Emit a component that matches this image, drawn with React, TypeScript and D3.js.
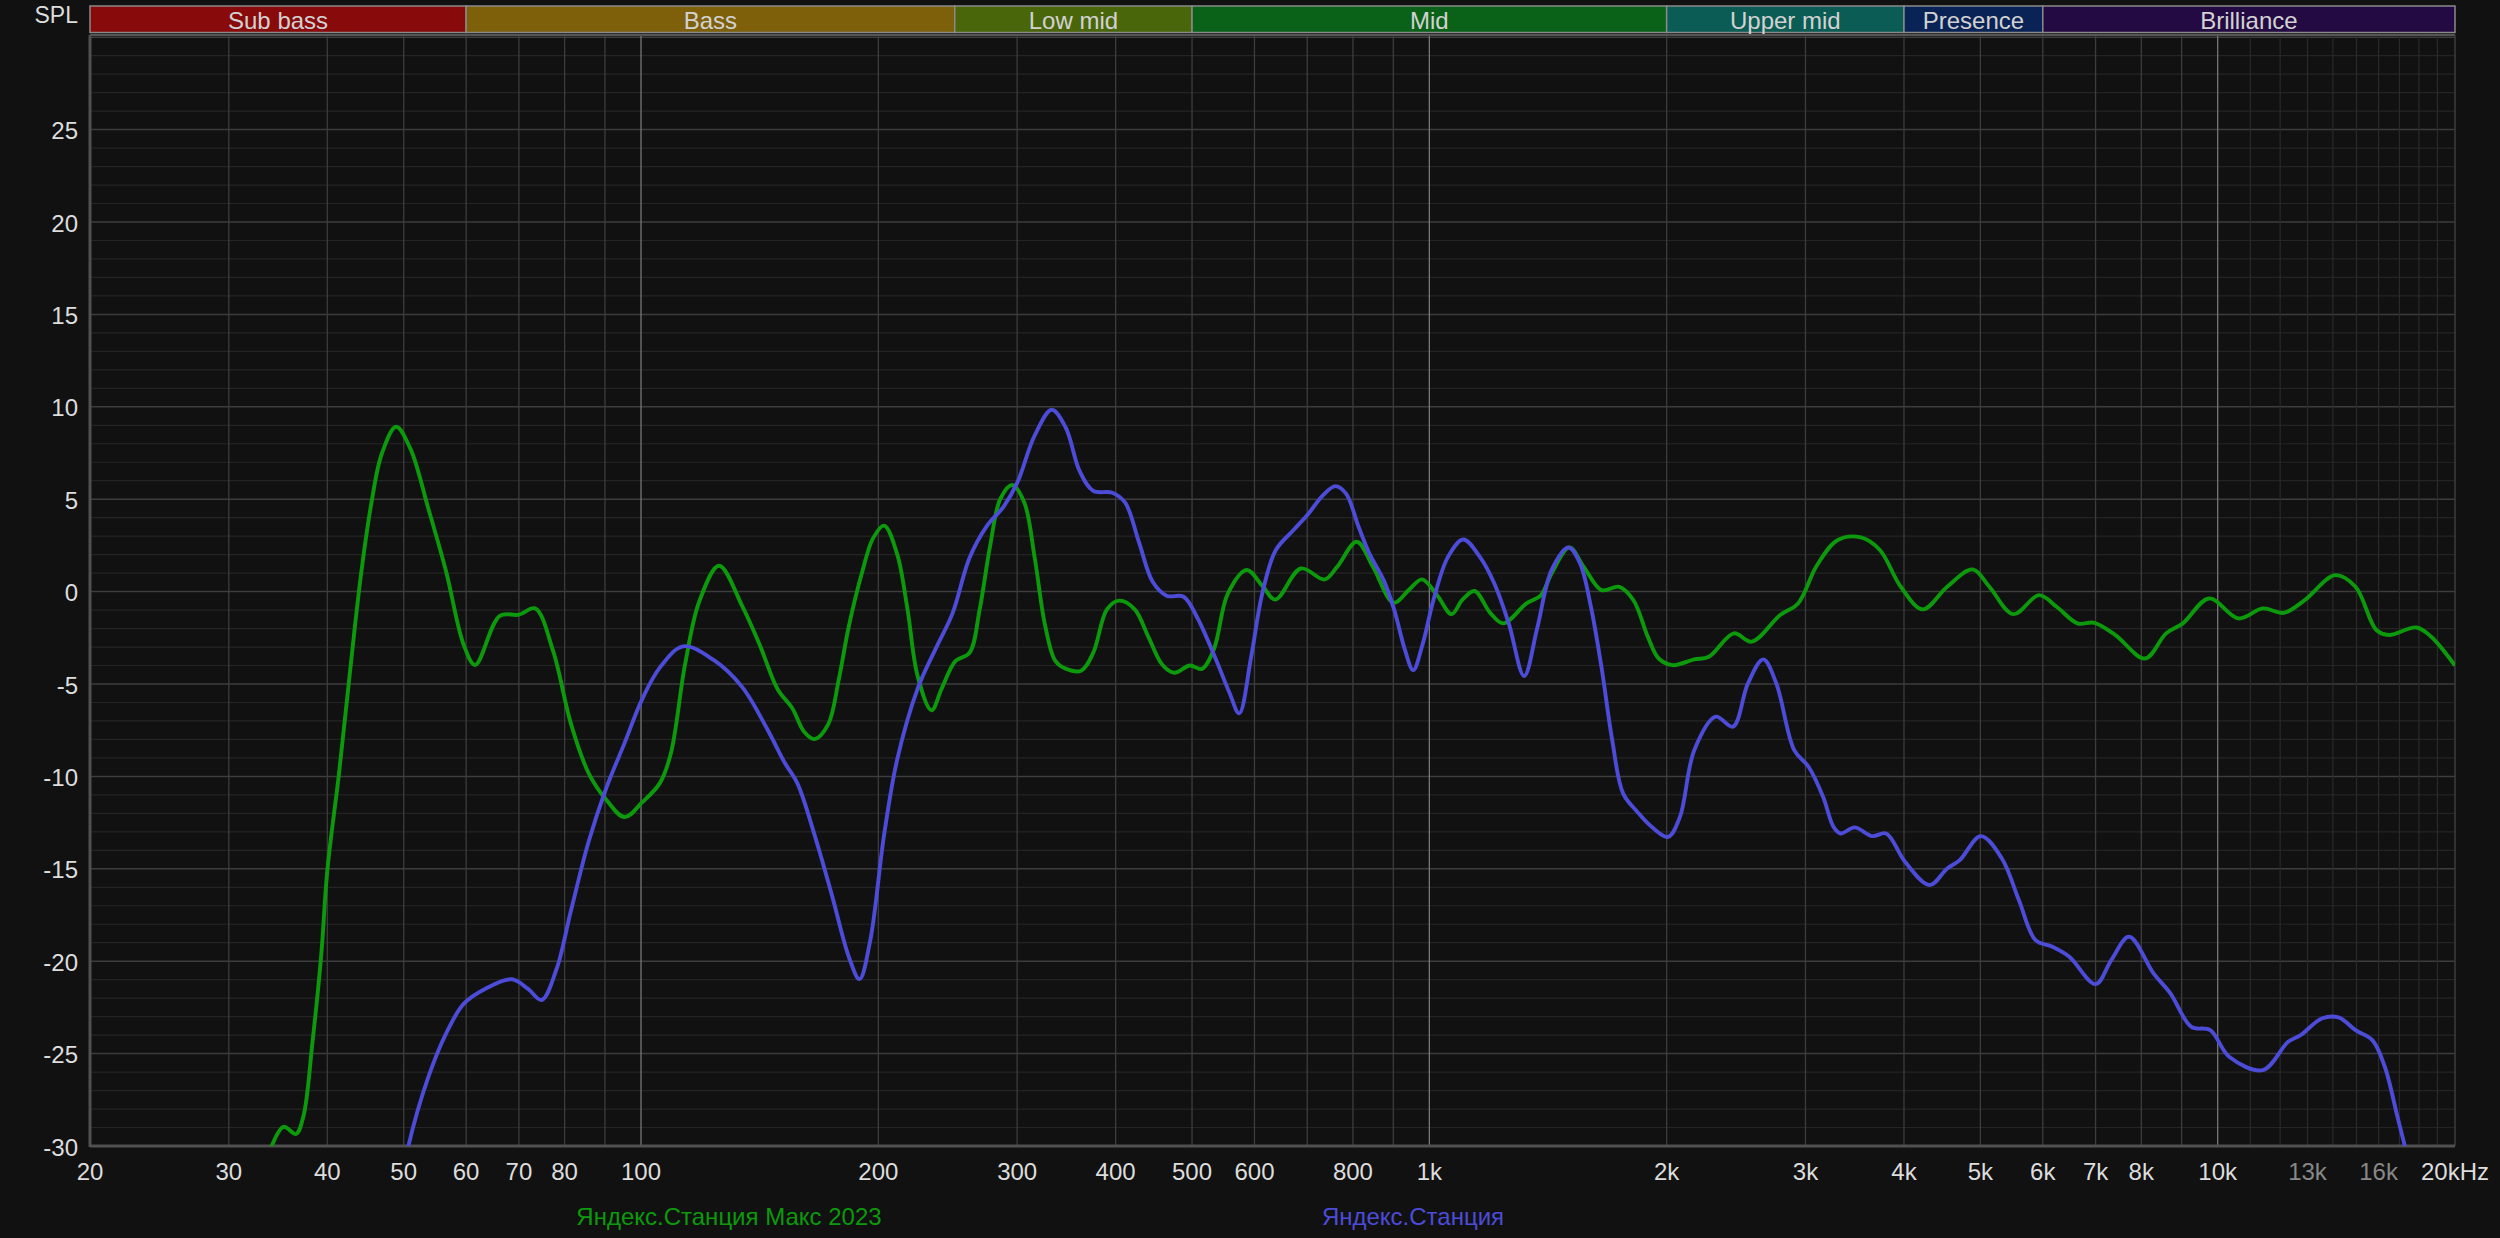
import React from "react";
import * as d3 from "d3";

const W = 2500;
const H = 1238;

// ---- data ----
const greenFreq = [33.5, 34.0, 35.2, 36.5, 37.3, 38.3, 39.3, 40.0, 41.4, 42.7, 44.1, 45.5, 46.9, 48.9, 51.0, 53.7, 56.6, 59.6, 61.6, 66.2, 70.0, 73.4, 77.3, 81.5, 85.8, 90.4, 95.3, 100.3, 105.7, 109.1, 113.7, 118.6, 125.6, 134.4, 141.5, 149.1, 155.5, 161.1, 166.0, 172.8, 178.1, 183.6, 191.1, 196.9, 203.4, 211.3, 217.8, 224.4, 233.6, 240.7, 250.6, 261.0, 268.9, 277.2, 285.7, 295.8, 306.4, 315.8, 325.5, 335.4, 345.7, 361.6, 374.6, 390, 404.2, 422.9, 440.3, 458.4, 474.9, 496.8, 514.5, 533.1, 555.1, 586.6, 613.8, 637.8, 687, 736.4, 763.8, 809.1, 848.1, 901, 941.3, 979, 1023, 1067, 1101, 1141, 1196, 1241, 1328, 1385, 1429, 1505, 1570, 1653, 1742, 1816, 1893, 1954, 2037, 2168, 2262, 2433, 2564, 2786, 2936, 3100, 3297, 3527, 3728, 3963, 4227, 4538, 4887, 5133, 5505, 5934, 6247, 6640, 6974, 7418, 8088, 8602, 9034, 9751, 10627, 11410, 12131, 12894, 14097, 14956, 15897, 16493, 17873, 18656, 20000];
const greenDb = [-31, -30, -28.96, -29.35, -28.4, -24.4, -19.65, -15.1, -9.8, -4.5, 0.8, 4.8, 7.46, 8.92, 7.72, 4.53, 1.08, -2.9, -3.97, -1.31, -1.25, -0.91, -3.17, -7.16, -9.82, -11.28, -12.2, -11.41, -10.35, -8.76, -3.97, -0.51, 1.4, -0.78, -2.9, -5.3, -6.3, -7.6, -7.98, -7.17, -4.8, -1.82, 1.17, 2.88, 3.57, 2.03, -0.97, -4.6, -6.42, -5.24, -3.75, -3.32, -0.96, 2.46, 5.03, 5.77, 4.81, 1.82, -1.82, -3.75, -4.17, -4.28, -3.32, -0.96, -0.49, -0.96, -2.46, -3.96, -4.39, -4.0, -4.18, -3.1, -0.11, 1.17, 0.32, -0.43, 1.25, 0.66, 1.34, 2.7, 1.34, -0.6, 0.08, 0.66, -0.2, -1.22, -0.45, 0.03, -1.18, -1.72, -0.64, -0.2, 0.98, 2.39, 1.34, 0.08, 0.26, -0.48, -2.45, -3.62, -3.98, -3.67, -3.53, -2.26, -2.71, -1.27, -0.64, 1.4, 2.79, 2.93, 2.25, 0.26, -0.96, 0.26, 1.2, 0.26, -1.22, -0.19, -0.82, -1.72, -1.69, -2.35, -3.62, -2.26, -1.72, -0.37, -1.45, -0.91, -1.15, -0.46, 0.89, 0.26, -2.08, -2.35, -1.94, -2.44, -4.0];

const blueFreq = [50.0, 50.7, 53.7, 56.6, 59.6, 63.4, 68.6, 71.9, 74.8, 78.1, 81.5, 85.8, 90.4, 95.3, 100.3, 105.7, 113.1, 123.6, 134.4, 144.5, 152.3, 157.9, 166, 174.5, 183.6, 189.3, 195.2, 203.4, 211.3, 224.4, 236.4, 248.4, 261, 274.4, 288.4, 300, 315.8, 331.9, 345.7, 360.1, 374.6, 396.2, 411.3, 428.2, 445.7, 464.1, 487.8, 507.4, 534.4, 557.6, 573.8, 594.2, 613.8, 638.4, 672.6, 702.8, 733.2, 760, 784, 813.2, 839.1, 875, 902.7, 931.4, 953.9, 981.2, 1012, 1056, 1104, 1159, 1209, 1261, 1319, 1370, 1429, 1502, 1553, 1603, 1653, 1706, 1761, 1835, 1914, 2009, 2079, 2168, 2308, 2427, 2536, 2652, 2755, 2903, 3027, 3158, 3256, 3325, 3463, 3646, 3798, 4012, 4311, 4538, 4708, 5007, 5324, 5595, 5875, 6171, 6483, 7002, 7329, 7720, 8291, 8710, 9258, 9784, 10340, 11410, 12285, 12741, 13554, 14233, 14956, 15712, 16293, 16906, 17283, 17600];
const blueDb = [-31.5, -30, -26.3, -23.9, -22.3, -21.5, -20.98, -21.5, -22.1, -20.45, -17.26, -13.54, -10.6, -8.2, -5.83, -4.1, -2.96, -3.7, -5.17, -7.42, -9.29, -10.38, -13.16, -16.37, -19.8, -20.97, -18.94, -13.16, -9.1, -5.24, -3.1, -1.18, 1.82, 3.53, 4.6, 5.88, 8.45, 9.84, 8.88, 6.52, 5.45, 5.35, 4.81, 2.67, 0.53, -0.22, -0.28, -1.39, -3.53, -5.46, -6.59, -3.53, -0.11, 2.24, 3.33, 4.23, 5.22, 5.71, 5.3, 3.51, 2.07, 0.62, -1.0, -3.17, -4.25, -2.8, -0.46, 1.88, 2.82, 1.88, 0.44, -1.72, -4.57, -2.0, 1.16, 2.39, 1.53, -0.82, -4.07, -8.04, -10.92, -11.91, -12.73, -13.27, -12.19, -8.58, -6.77, -7.31, -4.97, -3.67, -4.97, -8.58, -9.48, -11.1, -12.73, -13.09, -12.76, -13.23, -13.09, -14.62, -15.88, -14.98, -14.53, -13.23, -14.44, -16.69, -18.86, -19.22, -19.76, -21.24, -19.94, -18.68, -20.66, -21.74, -23.55, -23.73, -25.17, -25.89, -24.36, -24.0, -23.1, -23.04, -23.73, -24.27, -25.71, -28.42, -30.04, -31.5];

const seriesNames = ["Яндекс.Станция Макс 2023", "Яндекс.Станция"];
const seriesColors = ["#0c9a0c", "#4c4cd8"];

const bandNames = ["Sub bass", "Bass", "Low mid", "Mid", "Upper mid", "Presence", "Brilliance"];
const bandEdges = [20, 60, 250, 500, 2000, 4000, 6000, 20000];
const bandColors = ["#880a0a", "#7e600a", "#4a660a", "#0a6218", "#0a5c54", "#0a2356", "#230a42"];

const yTicks = [-30, -25, -20, -15, -10, -5, 0, 5, 10, 15, 20, 25];
const xTickValues = [20, 30, 40, 50, 60, 70, 80, 100, 200, 300, 400, 500, 600, 800, 1000, 2000, 3000, 4000, 5000, 6000, 7000, 8000, 10000, 13000, 16000, 20000];
const xTickLabels = ["20", "30", "40", "50", "60", "70", "80", "100", "200", "300", "400", "500", "600", "800", "1k", "2k", "3k", "4k", "5k", "6k", "7k", "8k", "10k", "13k", "16k", "20kHz"];
const dimLabels = ["13k", "16k"];

// ---- layout ----
const L = 90;
const R = 2455;
const T = 35;
const B = 1146;

export default function App() {
  const x = d3.scaleLog().domain([20, 20000]).range([L, R]);
  const y = d3.scaleLinear().domain([-30, 30]).range([B, B - 60 * 18.48]);

  const gridFreqs: number[] = [];
  for (let d = 10; d <= 1000; d *= 10) {
    for (let k = 2; k <= 9; k++) gridFreqs.push(k * d);
    gridFreqs.push(10 * d);
  }
  const hiFreqs: number[] = [];
  for (let f = 11000; f < 20000; f += 1000) hiFreqs.push(f);
  const brightFreqs = [100, 1000, 10000];

  const minorDb: number[] = [];
  for (let v = -29; v <= 30; v++) if (v % 5 !== 0) minorDb.push(v);
  const majorDb = [-25, -20, -15, -10, -5, 0, 5, 10, 15, 20, 25, 30];

  const line = d3
    .line<[number, number]>()
    .x((d) => x(d[0]))
    .y((d) => y(d[1]))
    .curve(d3.curveCatmullRom.alpha(0.5));

  const greenPts = greenFreq.map((f, i) => [f, greenDb[i]] as [number, number]);
  const bluePts = blueFreq.map((f, i) => [f, blueDb[i]] as [number, number]);

  const font = "'Liberation Sans', Arial, sans-serif";

  return (
    <div style={{ position: "absolute", left: 0, top: 0, width: W, height: H, background: "#111111" }}>
      <svg width={W} height={H} style={{ display: "block" }} fontFamily={font}>
        <rect x={0} y={0} width={W} height={H} fill="#111111" />
        <defs>
          <clipPath id="plotClip">
            <rect x={L} y={T} width={R - L} height={B - T} />
          </clipPath>
        </defs>

        {/* bands */}
        {bandNames.map((name, i) => {
          const x0 = x(bandEdges[i]);
          const x1 = x(bandEdges[i + 1]);
          return (
            <g key={name}>
              <rect x={x0} y={6} width={x1 - x0} height={26.5} fill={bandColors[i]} stroke="#8a8a8a" strokeWidth={1.5} />
              <text x={(x0 + x1) / 2} y={20} fill="#d2d2d2" fontSize={24} textAnchor="middle" dominantBaseline="central">
                {name}
              </text>
            </g>
          );
        })}

        {/* grid */}
        {minorDb.map((v) => (
          <line key={"mi" + v} x1={L} x2={R} y1={y(v)} y2={y(v)} stroke="#242424" strokeWidth={1.2} />
        ))}
        {majorDb.map((v) => (
          <line key={"ma" + v} x1={L} x2={R} y1={y(v)} y2={y(v)} stroke="#3d3d3d" strokeWidth={1.5} />
        ))}
        {hiFreqs.map((f) => (
          <line key={"hf" + f} x1={x(f)} x2={x(f)} y1={T} y2={B} stroke="#2a2a2a" strokeWidth={1.2} />
        ))}
        {gridFreqs.map((f) => (
          <line
            key={"gf" + f}
            x1={x(f)}
            x2={x(f)}
            y1={T}
            y2={B}
            stroke={brightFreqs.includes(f) ? "#777777" : "#3d3d3d"}
            strokeWidth={1.3}
          />
        ))}

        {/* frame */}
        <line x1={L} x2={R} y1={T} y2={T} stroke="#555" strokeWidth={2} />
        <line x1={R} x2={R} y1={T} y2={B} stroke="#3d3d3d" strokeWidth={1.5} />
        <line x1={L} x2={L} y1={T} y2={B + 1} stroke="#505050" strokeWidth={3} />
        <line x1={L} x2={R} y1={B} y2={B} stroke="#505050" strokeWidth={3} />

        {/* curves */}
        <g clipPath="url(#plotClip)">
          <path d={line(greenPts) || ""} fill="none" stroke={seriesColors[0]} strokeWidth={3.9} strokeLinejoin="round" />
          <path d={line(bluePts) || ""} fill="none" stroke={seriesColors[1]} strokeWidth={3.9} strokeLinejoin="round" />
        </g>

        {/* y labels */}
        {yTicks.map((v) => (
          <text key={"yl" + v} x={78} y={y(v) + 1} fill="#dddddd" fontSize={24} textAnchor="end" dominantBaseline="central">
            {v}
          </text>
        ))}
        <text x={78} y={15} fill="#dddddd" fontSize={23} textAnchor="end" dominantBaseline="central">
          SPL
        </text>

        {/* x labels */}
        {xTickValues.map((f, i) => (
          <text
            key={"xl" + f}
            x={x(f)}
            y={1171}
            fill={dimLabels.includes(xTickLabels[i]) ? "#888888" : "#dddddd"}
            fontSize={24}
            textAnchor="middle"
            dominantBaseline="central"
          >
            {xTickLabels[i]}
          </text>
        ))}

        {/* legend */}
        <text x={729} y={1216} fill={seriesColors[0]} fontSize={24} textAnchor="middle" dominantBaseline="central">
          {seriesNames[0]}
        </text>
        <text x={1413} y={1216} fill={seriesColors[1]} fontSize={24} textAnchor="middle" dominantBaseline="central">
          {seriesNames[1]}
        </text>
      </svg>
    </div>
  );
}
